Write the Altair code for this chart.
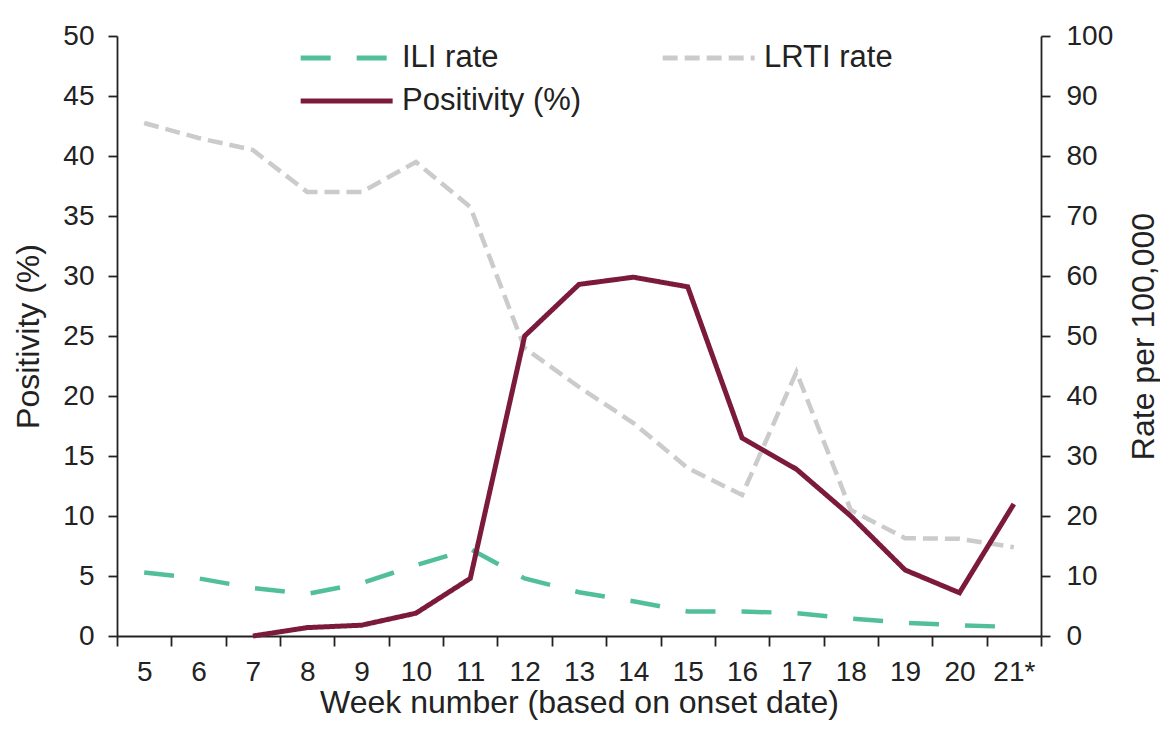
import altair as alt
import pandas as pd

weeks = ["5", "6", "7", "8", "9", "10", "11", "12", "13", "14", "15", "16", "17", "18", "19", "20", "21*"]
positivity = [None, None, 0.0, 0.7, 0.9, 1.9, 4.8, 25.0, 29.3, 29.9, 29.1, 16.5, 13.9, 10.0, 5.5, 3.6, 11.0]
ili_rate = [10.6, 9.6, 8.0, 7.0, 8.8, 11.8, 14.5, 9.6, 7.3, 5.8, 4.1, 4.1, 3.8, 2.9, 2.2, 1.8, 1.5]
lrti_rate = [85.5, 83.0, 81.0, 74.0, 74.0, 79.0, 71.5, 48.0, 41.5, 35.5, 28.0, 23.5, 44.0, 21.0, 16.3, 16.2, 14.8]

series_names = ["ILI rate", "LRTI rate", "Positivity (%)"]
series_colors = ["#52bf9c", "#cbcbcb", "#7b1a3c"]
series_dashes = [[30, 26], [15, 7], [1, 0]]

rows = []
for i, w in enumerate(weeks):
    rows.append({"week": w, "series": "ILI rate", "value": ili_rate[i]})
    rows.append({"week": w, "series": "LRTI rate", "value": lrti_rate[i]})
    rows.append({"week": w, "series": "Positivity (%)", "value": positivity[i]})
df = pd.DataFrame(rows)

FONT = "Liberation Sans"

x_enc = alt.X(
    "week:N",
    sort=weeks,
    scale=alt.Scale(type="band", domain=weeks, paddingInner=0, paddingOuter=0),
    axis=alt.Axis(
        title="Week number (based on onset date)",
        labelAngle=0,
        tickBand="extent",
        tickSize=10,
        labelPadding=12,
        titleX=462,
        titleY=66,
        titleBaseline="middle",
        titleAlign="center",
    ),
)

# long horizontal stroke symbol: unit path scaled by sqrt(size)/2
legend = alt.Legend(
    title=None,
    orient="none",
    legendX=181,
    legendY=4,
    columns=2,
    direction="horizontal",
    symbolType="M-1,0H5",
    symbolSize=940,
    symbolStrokeWidth=5,
    symbolFillColor="transparent",
    labelFontSize=31,
    labelFont=FONT,
    labelColor="#222222",
    labelLimit=0,
    labelOffset=68,
    columnPadding=70,
    rowPadding=10,
    padding=0,
)

color_enc = alt.Color(
    "series:N",
    scale=alt.Scale(domain=series_names, range=series_colors),
    legend=legend,
)
dash_enc = alt.StrokeDash(
    "series:N",
    scale=alt.Scale(domain=series_names, range=series_dashes),
    legend=legend,
)

rates = (
    alt.Chart(df)
    .transform_filter(alt.FieldOneOfPredicate(field="series", oneOf=["ILI rate", "LRTI rate"]))
    .mark_line(strokeWidth=4.5, strokeCap="butt")
    .encode(
        x=x_enc,
        y=alt.Y(
            "value:Q",
            scale=alt.Scale(domain=[0, 100], nice=False),
            axis=alt.Axis(
                orient="right",
                title="Rate per 100,000",
                values=list(range(0, 101, 10)),
                tickSize=9,
                labelPadding=16,
                titleAngle=270,
                titleX=102,
                titleY=300,
                titleAlign="center",
                titleBaseline="middle",
            ),
        ),
        color=color_enc,
        strokeDash=dash_enc,
        order=alt.Order("series:N"),
    )
)

pos = (
    alt.Chart(df)
    .transform_filter(alt.FieldEqualPredicate(field="series", equal="Positivity (%)"))
    .mark_line(strokeWidth=5, strokeCap="butt", strokeJoin="miter")
    .encode(
        x=x_enc,
        y=alt.Y(
            "value:Q",
            scale=alt.Scale(domain=[0, 50], nice=False),
            axis=alt.Axis(
                orient="left",
                title="Positivity (%)",
                values=list(range(0, 51, 5)),
                tickSize=9,
                labelPadding=14,
                titleAngle=270,
                titleX=-89,
                titleY=300,
                titleAlign="center",
                titleBaseline="middle",
            ),
        ),
        color=color_enc,
        strokeDash=dash_enc,
    )
)

chart = (
    alt.layer(rates, pos)
    .resolve_scale(y="independent")
    .properties(
        width=924,
        height=600,
        autosize=alt.AutoSizeParams(type="none"),
        padding={"left": 109, "top": 28, "right": 119, "bottom": 88},
        background="white",
    )
    .configure_view(stroke=None)
    .configure_axis(
        labelFont=FONT,
        titleFont=FONT,
        labelFontSize=28,
        titleFontSize=32,
        titleFontWeight="normal",
        labelColor="#222222",
        titleColor="#222222",
        domainColor="#222222",
        tickColor="#222222",
        domainWidth=1.8,
        tickWidth=1.8,
        grid=False,
    )
)

chart.save("out.html", embed_options={"renderer": "svg", "actions": False})
